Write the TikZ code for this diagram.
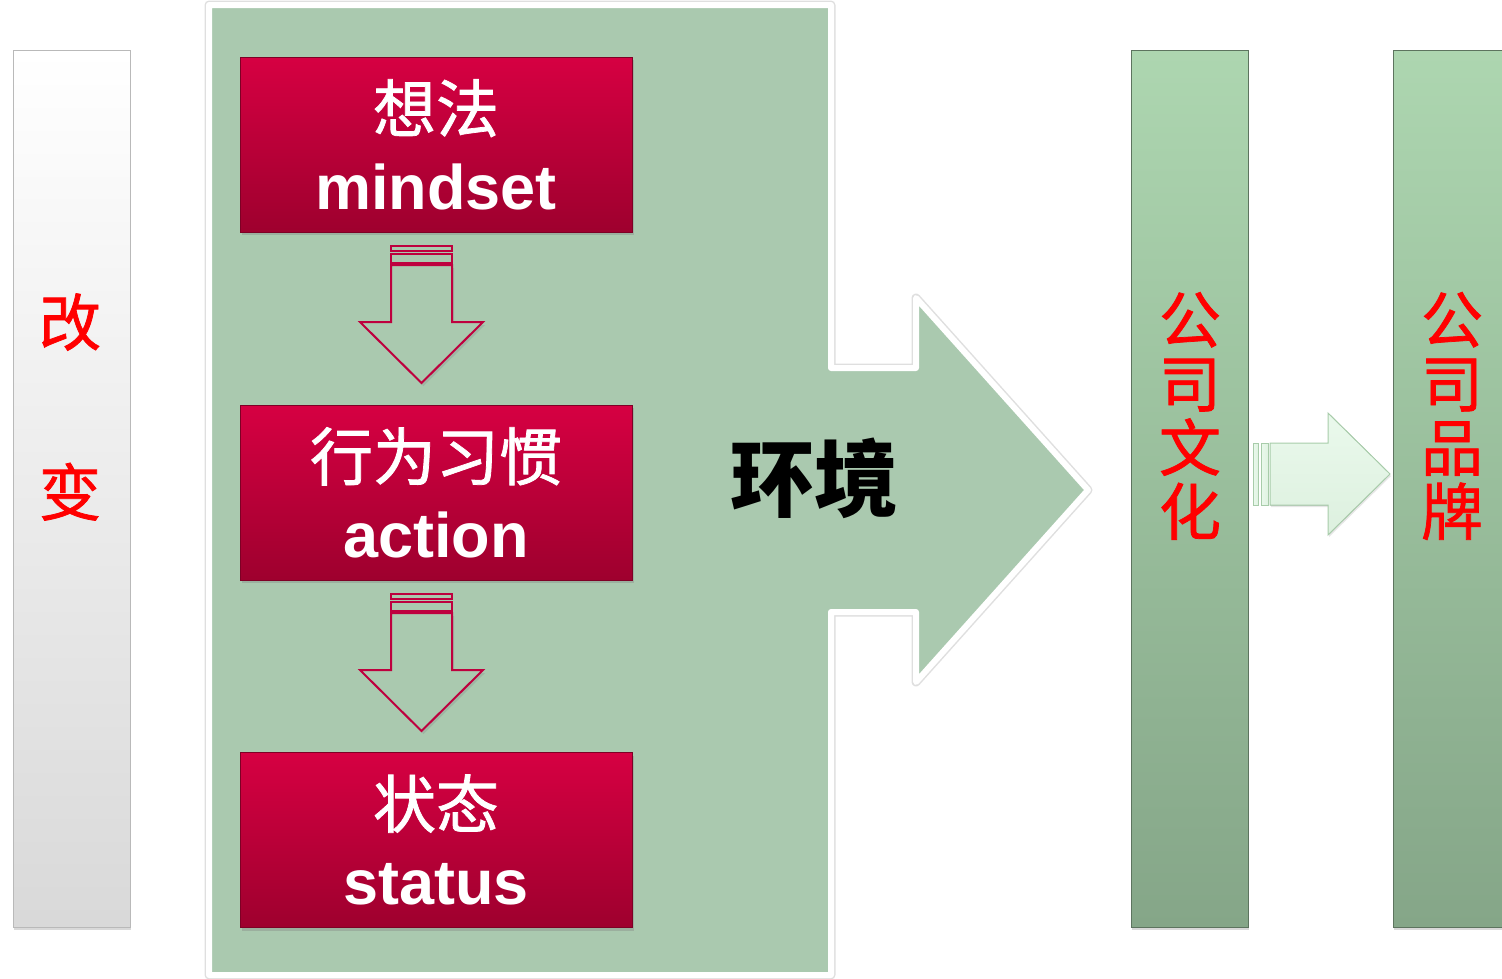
\documentclass[tikz,border=0pt]{standalone}
\usepackage{fontspec}
\setmainfont{Liberation Sans}[BoldFont={Liberation Sans Bold}]
\newfontfamily\cjk{Noto Sans CJK SC}[FakeBold=1.2]
\newfontfamily\cjkplain{Noto Sans CJK SC}
\usetikzlibrary{shadows}
\definecolor{crimson}{RGB}{214, 0, 66}
\definecolor{burgundy}{RGB}{158, 0, 46}
\definecolor{sage}{RGB}{170, 201, 175}
\definecolor{mint}{RGB}{173, 214, 176}
\definecolor{fern}{RGB}{133, 166, 136}
\definecolor{pale}{RGB}{234, 249, 236}
\definecolor{paleline}{RGB}{168, 204, 170}
\definecolor{redline}{RGB}{190, 0, 62}
\definecolor{pure}{RGB}{255, 0, 0}

\begin{document}
\begin{tikzpicture}[x=1pt, y=-1pt,
    redbox/.style={draw=burgundy!80!black, top color=crimson, bottom color=burgundy,
                   minimum width=392pt, minimum height=175pt, inner sep=0pt,
                   text=white, align=center, font=\fontsize{63}{77}\selectfont,
                   drop shadow={shadow xshift=2pt, shadow yshift=-3pt, opacity=.35}},
    greenbar/.style={draw=fern!70!black, line width=.8pt, top color=mint, bottom color=fern,
                     minimum width=117pt, minimum height=877pt, inner sep=0pt,
                     drop shadow={shadow xshift=1pt, shadow yshift=-3pt, opacity=.3}},
    bartext/.style={text=pure, align=center, inner sep=0pt, font=\cjk\fontsize{62}{64}\selectfont}]
            \useasboundingbox (0,0) rectangle (1502,978);
            % environment arrow
            \draw[gray!25, line width=9pt, line join=round]
                (209,5) -- (831,5) -- (831,368) -- (916,368) -- (916,298) -- (1088,490)
                -- (916,682) -- (916,612) -- (831,612) -- (831,975) -- (209,975) -- cycle;
            \filldraw[draw=white, fill=sage, line width=6pt, line join=round]
                (209,5) -- (831,5) -- (831,368) -- (916,368) -- (916,298) -- (1088,490)
                -- (916,682) -- (916,612) -- (831,612) -- (831,975) -- (209,975) -- cycle;
            \node[font=\cjkplain\bfseries\fontsize{84}{84}\selectfont, inner sep=0pt] (env) at (814,478) {环境};
            % left bar
            \node[draw=gray!55, line width=.8pt, top color=white, bottom color=gray!30,
                  minimum width=117pt, minimum height=877pt, inner sep=0pt,
                  drop shadow={shadow xshift=1pt, shadow yshift=-3pt, opacity=.3}] (change) at (71.5,488.5) {};
            \node[bartext, font=\cjk\fontsize{62}{170}\selectfont] (changetext) at (70,407) {改\\变};
            % red boxes
            \node[redbox] (mindset) at (436,144.5) {{\cjk 想法}\\\textbf{mindset}};
            \node[redbox] (action)  at (436,492.5) {{\cjk 行为习惯}\\\textbf{action}};
            \node[redbox] (status)  at (436,840)   {{\cjk 状态}\\\textbf{status}};
            % block arrows between boxes
            \foreach \t in {246,594}{
                \draw[redline, line width=1.5pt] (391,\t)   rectangle (452,\t+5);
                \draw[redline, line width=1.5pt] (391,\t+8) rectangle (452,\t+17);
                \filldraw[draw=redline, fill=sage, line width=2pt, line join=miter,
                          drop shadow={shadow xshift=2pt, shadow yshift=-3pt, opacity=.25}]
                    (391,\t+19) -- (391,\t+76) -- (360,\t+76) -- (421.5,\t+137)
                    -- (483,\t+76) -- (452,\t+76) -- (452,\t+19) -- cycle;
            }
            % green bars
            \node[greenbar] (culture) at (1189.5,488.5) {};
            \node[greenbar] (brand)   at (1451.5,488.5) {};
            \node[bartext] (culturetext) at (1190,416) {公\\司\\文\\化};
            \node[bartext] (brandtext)   at (1452,416) {公\\司\\品\\牌};
            % small arrow
            \draw[paleline, line width=1pt, left color=pale, right color=pale!85!paleline] (1253,443) rectangle (1258,505);
            \draw[paleline, line width=1pt, left color=pale, right color=pale!85!paleline] (1261,443) rectangle (1268,505);
            \filldraw[draw=paleline, line width=1pt, top color=pale, bottom color=pale!80!paleline,
                      drop shadow={shadow xshift=1pt, shadow yshift=-2pt, opacity=.2}]
                (1270,443) -- (1328,443) -- (1328,413) -- (1390,474) -- (1328,535) -- (1328,505) -- (1270,505) -- cycle;
        \end{tikzpicture}
\end{document}
